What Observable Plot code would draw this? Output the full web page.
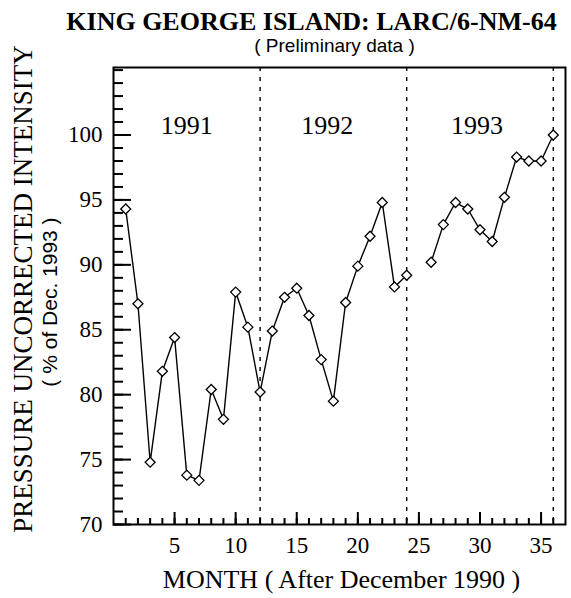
<!DOCTYPE html>
<html>
<head>
<meta charset="utf-8">
<script src="https://cdn.jsdelivr.net/npm/d3@7"></script>
<script src="https://cdn.jsdelivr.net/npm/@observablehq/plot@0.6"></script>
<style>
  html, body { margin: 0; padding: 0; background: #fff; }
  #chart svg { display: block; }
</style>
</head>
<body>
<div id="chart"></div>
<script>
// ---- data ----
const months = [1,2,3,4,5,6,7,8,9,10,11,12,13,14,15,16,17,18,19,20,21,22,23,24,25,26,27,28,29,30,31,32,33,34,35,36];
const intensity = [94.3,87.0,74.8,81.8,84.4,73.8,73.4,80.4,78.1,87.9,85.2,80.2,
                   84.9,87.5,88.2,86.1,82.7,79.5,87.1,89.9,92.2,94.8,88.3,89.2,
                   null,90.2,93.1,94.8,94.3,92.7,91.8,95.2,98.3,98.0,98.0,100.0];
const yearLabels = ["1991", "1992", "1993"];
const yearLabelMonth = [6, 17.5, 29.75];
const yearLabelLevel = [100.7, 100.7, 100.7];
const yearBoundaries = [12, 24, 36];
const yMajorTicks = [70, 75, 80, 85, 90, 95, 100];
const yMinorTicks = d3.range(70, 106, 1);
const xMajorTicks = [5, 10, 15, 20, 25, 30, 35];
const xMinorTicks = d3.range(1, 37, 1);
const titleText = "KING GEORGE ISLAND: LARC/6-NM-64";
const subtitleText = "( Preliminary data )";
const yLabelText = "PRESSURE UNCORRECTED INTENSITY";
const ySubLabelText = "( % of Dec. 1993 )";
const xLabelText = "MONTH ( After December 1990 )";

const data = months.map((m, i) => ({month: m, value: intensity[i]}));
const years = yearLabels.map((t, i) => ({label: t, month: yearLabelMonth[i], value: yearLabelLevel[i]}));
const yMinorData = yMinorTicks.map(v => ({v}));
const yMajorData = yMajorTicks.map(v => ({v}));
const xMinorData = xMinorTicks.map(v => ({v}));
const xMajorData = xMajorTicks.map(v => ({v}));

const serif = "'Liberation Serif', 'Times New Roman', serif";
const sans = "'Liberation Sans', Arial, sans-serif";

const W = 571, H = 598, ML = 113, MR = 6, MT = 67, MB = 74;
const frameW = W - ML - MR, frameH = H - MT - MB;
// inward tick lengths (px)
const yMinorLen = 10, yMajorLen = 18, xMinorLen = 6, xMajorLen = 12;

const chart = Plot.plot({
  width: W,
  height: H,
  marginLeft: ML,
  marginRight: MR,
  marginTop: MT,
  marginBottom: MB,
  style: {fontFamily: serif, fontSize: "23px", color: "black", background: "white", overflow: "visible"},
  x: {domain: [0, 37]},
  y: {domain: [70, 105.2]},
  marks: [
    // year separators
    Plot.ruleX(yearBoundaries, {stroke: "black", strokeWidth: 1.4, strokeDasharray: "4,6"}),
    // inward ticks
    Plot.tickY(yMinorData, {y: "v", insetRight: frameW - yMinorLen, stroke: "black", strokeWidth: 2}),
    Plot.tickY(yMajorData, {y: "v", insetRight: frameW - yMajorLen, stroke: "black", strokeWidth: 2}),
    Plot.tickX(xMinorData, {x: "v", insetTop: frameH - xMinorLen, stroke: "black", strokeWidth: 2}),
    Plot.tickX(xMajorData, {x: "v", insetTop: frameH - xMajorLen, stroke: "black", strokeWidth: 2}),
    // tick labels
    Plot.axisY(yMajorTicks, {tickSize: 0, tickPadding: 11, label: null, fontSize: 23, fontFamily: serif}),
    Plot.axisX(xMajorTicks, {tickSize: 0, tickPadding: 12, label: null, fontSize: 23, fontFamily: serif}),
    Plot.frame({stroke: "black", strokeWidth: 2}),
    // data
    Plot.line(data, {x: "month", y: "value", stroke: "black", strokeWidth: 1.4}),
    Plot.dot(data, {x: "month", y: "value", symbol: "diamond2", r: 4.5, fill: "white", stroke: "black", strokeWidth: 1.3}),
    // year labels
    Plot.text(years, {x: "month", y: "value", text: "label", fontSize: 26, fontFamily: serif, textAnchor: "middle", lineAnchor: "middle"}),
    // titles and axis labels
    Plot.text([titleText], {frameAnchor: "top", textAnchor: "middle", lineAnchor: "middle", dx: -28, dy: -46, fontSize: 26, fontWeight: "bold", fontFamily: serif}),
    Plot.text([subtitleText], {frameAnchor: "top", textAnchor: "middle", lineAnchor: "middle", dx: -5, dy: -22, fontSize: 19, fontFamily: sans}),
    Plot.text([yLabelText], {frameAnchor: "left", textAnchor: "middle", lineAnchor: "middle", rotate: -90, dx: -90, dy: -7, fontSize: 27, fontFamily: serif}),
    Plot.text([ySubLabelText], {frameAnchor: "left", textAnchor: "middle", lineAnchor: "middle", rotate: -90, dx: -63, dy: 6, fontSize: 21, fontFamily: sans}),
    Plot.text([xLabelText], {frameAnchor: "bottom", textAnchor: "middle", lineAnchor: "middle", dx: 2, dy: 55, fontSize: 26, fontFamily: serif})
  ]
});

document.getElementById("chart").appendChild(chart);
</script>
</body>
</html>
